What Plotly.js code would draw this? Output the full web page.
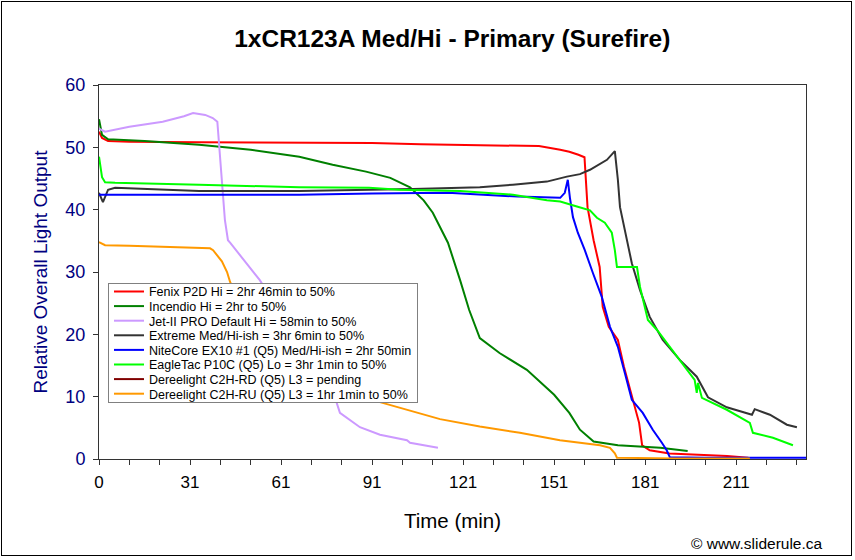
<!DOCTYPE html>
<html>
<head>
<meta charset="utf-8">
<script src="https://cdn.plot.ly/plotly-3.0.1.min.js"></script>
<style>
  html, body { margin: 0; padding: 0; background: #fff; }
  #wrap { position: relative; width: 855px; height: 560px; }
  #chart { width: 855px; height: 560px; }
  #frame { position: absolute; left: 1px; top: 1px; width: 849px; height: 553px; border: 1px solid #000; pointer-events: none; }
</style>
</head>
<body>
<div id="wrap"><div id="chart"></div><div id="frame"></div></div>
<script>
// ---- Series names ----
const seriesNames = [
  "Fenix P2D Hi = 2hr 46min to 50%",
  "Incendio Hi = 2hr to 50%",
  "Jet-II PRO Default Hi = 58min to 50%",
  "Extreme Med/Hi-ish = 3hr 6min to 50%",
  "NiteCore EX10 #1 (Q5) Med/Hi-ish = 2hr 50min",
  "EagleTac P10C (Q5) Lo = 3hr 1min to 50%",
  "Dereelight C2H-RD (Q5) L3 = pending",
  "Dereelight C2H-RU (Q5) L3 = 1hr 1min to 50%"
];
const seriesColors = ["#ff0000", "#008000", "#cc99ff", "#333333", "#0000ff", "#00ff00", "#800000", "#ff9900"];

// ---- Data (time in minutes, relative output) ----
const fenixX = [0,1,3,10,33,60,90,106,120,145,152,155,158,160,161,163,165,166,168,171,173,176,178,179,181.5,188,207,214];
const fenixY = [52.5,51.5,51,50.9,50.8,50.8,50.7,50.5,50.4,50.2,49.6,49.3,48.8,48.4,40.4,35.1,30.8,24.4,21.2,19.1,14.8,9.5,5.8,2.2,1.4,0.9,0.5,0.2];

const incendioX = [0,1,3,15,33,50,66,77,88,96,102.5,107,110,112.5,115,119,122,125.5,132,141,150,155,158.5,163,171,185,194];
const incendioY = [54.5,52,51.3,51,50.4,49.6,48.5,47.2,46.1,45.1,43.6,41.5,39.5,37.2,34.7,28.7,23.9,19.4,17,14.3,10.3,7.4,4.7,2.8,2.2,1.8,1.3];

const jetX = [0,2,10,21,28,31,35,37.5,39,40,41.5,42.5,43.2,53,66,78,79.4,86,92.6,101.5,102.5,111.7];
const jetY = [53,52.5,53.3,54.1,55,55.5,55.2,54.7,54.1,47.5,38.3,35.1,34.7,28.7,18.5,9.5,7.4,5.1,3.9,3,2.6,1.8];

const extremeX = [0,1.3,3,5.3,33,66,103.5,125.5,136.4,147.6,154.2,158.5,161.8,167.4,170,171,171.7,174,175.6,178.3,181.5,185.8,191.4,197,200.7,206.9,215.2,216.1,221.1,226.7,230];
const extremeY = [42.7,41.2,43.2,43.5,43,43,43.3,43.6,44,44.5,45.3,45.7,46.4,48,49.4,44.8,40.4,35.1,31.4,27.1,22.8,19.1,15.9,13.2,9.9,8.3,7.1,8,7.1,5.5,5.1];

const nitecoreX = [0,33,66,90,115,138,150,152,153.5,154.5,155.2,156.2,157.8,160.1,162.8,165.7,168.4,171,173.3,175.6,179.2,182.5,185.5,187.1,188.1,200,215,233];
const nitecoreY = [42.4,42.4,42.4,42.6,42.7,42.1,41.9,41.9,42.7,44.8,41.9,38.8,36.3,33.5,29.8,26,21.2,18,13.8,9.5,7.4,4.7,2.6,1.4,0.3,0.2,0.2,0.2];

const eagleX = [0,1,2,5.3,33,58,66,89,99,119,136.4,147.6,152,157.5,161.8,164.1,166.7,169,170,170.7,171.7,177.3,178.3,180.9,183.9,188.1,193.7,196.3,197,197.4,198.7,206.9,214.5,215.5,222.1,228.7];
const eagleY = [48.5,45.2,44.4,44.3,44,43.7,43.6,43.5,43.2,43,42.4,41.5,41.3,40.5,39.9,38.7,37.9,36.3,33.5,30.8,30.8,30.8,27.6,22.3,20.7,18,14.3,12.7,10.6,12.2,9.8,7.9,5.8,4.2,3.4,2.2];

// pending series: no readings yet
const rdX = [0];
const rdY = [null];

const ruX = [0,2,10,26,36.6,37.6,40.5,42.2,43.2,46.5,53,66,79,92,99.2,112.4,125.5,138.7,151.9,158.5,165.1,168.4,170,170.7,190,214.5];
const ruY = [34.8,34.3,34.2,34,33.8,33.5,31.7,30,28.4,25,20,14,11,9.2,8.2,6.4,5.2,4.2,3,2.6,2.2,1.8,0.9,0.2,0.1,0.1];

// ---- Axis tick labels ----
const xTickLabels = ["0","31","61","91","121","151","181","211"];
const yTickLabels = ["0","10","20","30","40","50","60"];

const seriesX = [fenixX, incendioX, jetX, extremeX, nitecoreX, eagleX, rdX, ruX];
const seriesY = [fenixY, incendioY, jetY, extremeY, nitecoreY, eagleY, rdY, ruY];

const traces = seriesNames.map((n, i) => ({
  type: "scatter",
  mode: "lines",
  name: n,
  x: seriesX[i],
  y: seriesY[i],
  connectgaps: false,
  line: { color: seriesColors[i], width: 2 },
  hoverinfo: "skip"
}));

const minorVals = [];
const minorText = [];
for (let v = 0; v <= 230; v += 10) {
  minorVals.push(v);
  const k = v / 30;
  minorText.push(Number.isInteger(k) && k < xTickLabels.length ? xTickLabels[k] : "");
}

const layout = {
  width: 855,
  height: 560,
  margin: { l: 99, r: 49, t: 85, b: 101 },
  paper_bgcolor: "#ffffff",
  plot_bgcolor: "#ffffff",
  font: { family: "Arial, 'Liberation Sans', sans-serif", color: "#000" },
  title: {
    text: "<b>1xCR123A Med/Hi - Primary (Surefire)</b>",
    font: { size: 24.5, color: "#000" },
    x: 0.529, xanchor: "center", y: 0.932, yanchor: "middle"
  },
  showlegend: true,
  legend: {
    x: 0.0127, y: 0.4706, xanchor: "left", yanchor: "top",
    bgcolor: "#ffffff", bordercolor: "#808080", borderwidth: 1,
    font: { size: 12.5, color: "#000" },
    traceorder: "normal",
    itemwidth: 30
  },
  xaxis: {
    range: [0, 233],
    tickmode: "array",
    tickvals: minorVals,
    ticktext: minorText,
    ticks: "outside", ticklen: 5, tickcolor: "#333",
    showgrid: false, zeroline: false,
    showline: true, linecolor: "#333", linewidth: 1, mirror: true,
    tickfont: { size: 17, color: "#000" },
    ticklabelstandoff: 3,
    title: { text: "Time (min)", font: { size: 20.5, color: "#000" }, standoff: 22 }
  },
  yaxis: {
    range: [0, 60],
    tickmode: "array",
    tickvals: yTickLabels.map(Number),
    ticktext: yTickLabels,
    ticks: "outside", ticklen: 5, tickcolor: "#333",
    showgrid: false, zeroline: false,
    showline: true, linecolor: "#333", linewidth: 1, mirror: true,
    tickfont: { size: 18, color: "#000080" },
    ticklabelstandoff: 4,
    title: { text: "Relative Overall Light Output", font: { size: 19, color: "#000080" }, standoff: 12 }
  },
  annotations: [{
    text: "© www.sliderule.ca",
    xref: "paper", yref: "paper",
    x: 1.027, y: -0.225, xanchor: "right", yanchor: "middle",
    showarrow: false,
    font: { size: 15.5, color: "#000" }
  }]
};

Plotly.newPlot("chart", traces, layout, { displayModeBar: false, staticPlot: true }).then(() => {
  // compact legend rows to match reference spacing
  const items = document.querySelectorAll(".legend .traces");
  if (items.length > 1) {
    const parse = el => {
      const m = /translate\(\s*([-\d.]+)[ ,]+([-\d.]+)\s*\)/.exec(el.getAttribute("transform") || "");
      return m ? [parseFloat(m[1]), parseFloat(m[2])] : [0, 0];
    };
    const p0 = parse(items[0]);
    const newStep = 14.6;
    const y0 = 8.5;
    items.forEach((el, i) => {
      const p = parse(el);
      el.setAttribute("transform", "translate(" + p[0] + "," + (y0 + i * newStep) + ")");
    });
    const newH = items.length * newStep + 2.5;
    document.querySelectorAll(".legend .bg").forEach(bg => {
      bg.setAttribute("height", newH);
    });
  }
});
</script>
</body>
</html>
